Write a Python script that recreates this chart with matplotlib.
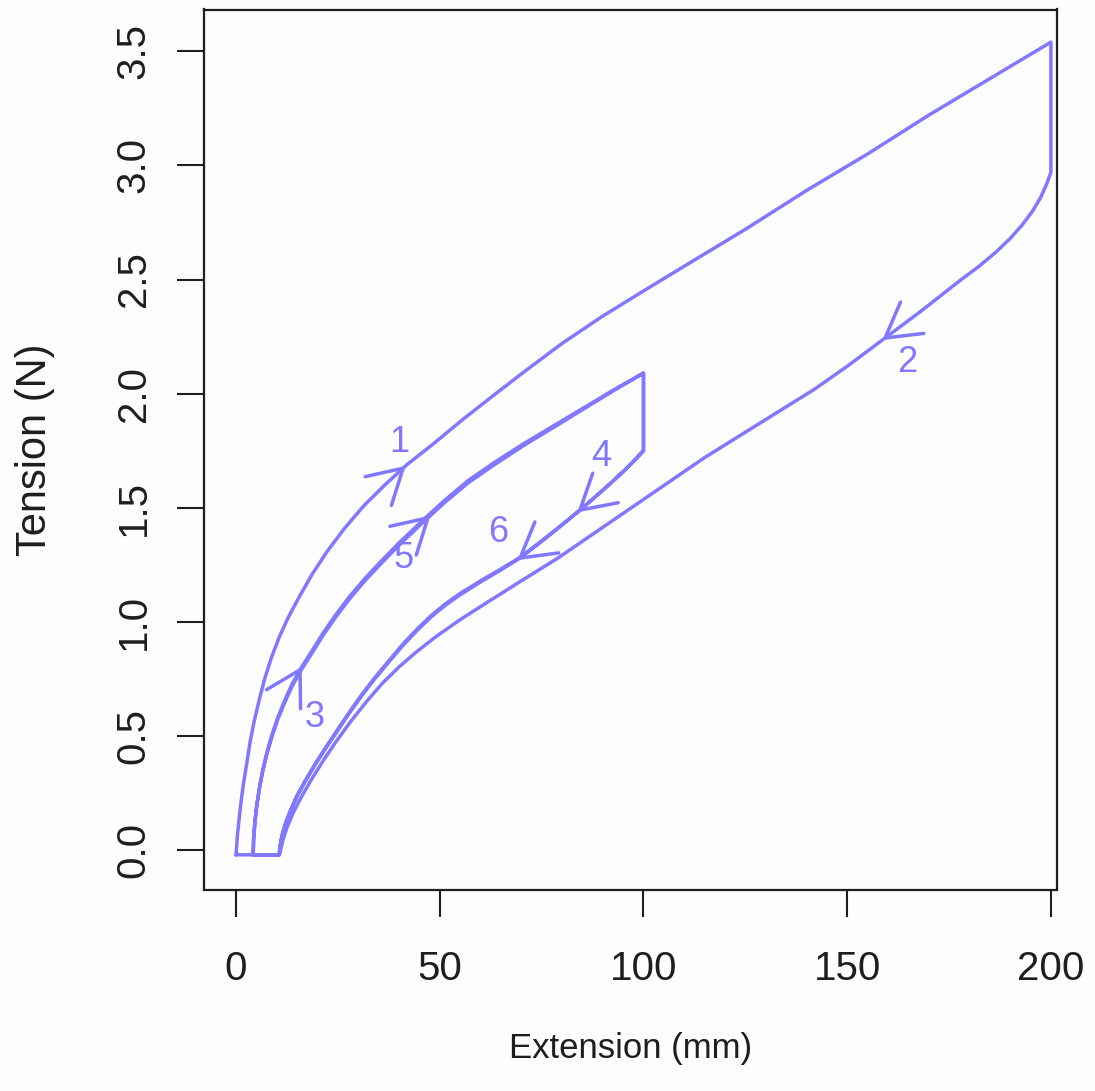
"""Hysteresis loops of tension against extension, three load/unload cycles."""

import numpy as np
import matplotlib

matplotlib.use("Agg")
import matplotlib.pyplot as plt

plt.rcParams["font.family"] = ["Liberation Sans", "DejaVu Sans"]

# cycle 1: load to 200 mm, then unload (mm / N)
load1_x = [0.0, 0.3, 0.7, 1.2, 1.8, 2.6, 3.5, 4.5, 5.7, 7.0, 8.6, 10.5, 12.8, 15.5,
           18.7, 22.4, 26.6, 31.4, 36.5, 42.0, 48.4, 55.5, 63.0, 71.0, 80.0, 90.0,
           100.0, 112.0, 125.0, 140.0, 155.0, 170.0, 185.0, 200.0]
load1_y = [-0.02, 0.06, 0.13, 0.21, 0.29, 0.38, 0.48, 0.57, 0.66, 0.75, 0.84, 0.93, 1.02, 1.11,
           1.21, 1.31, 1.41, 1.51, 1.60, 1.69, 1.78, 1.885, 1.99, 2.10, 2.22, 2.34,
           2.45, 2.58, 2.72, 2.89, 3.05, 3.22, 3.38, 3.54]
unload2_x = [200.0, 199.0, 197.5, 195.5, 193.0, 190.0, 186.5, 182.5, 178.0, 173.0, 168.0,
             162.0, 156.0, 150.0, 142.0, 133.0, 124.0, 115.0, 106.0, 97.0, 88.0, 79.0,
             70.0, 62.0, 55.0, 49.0, 44.0, 40.0, 36.0, 32.0, 28.0, 24.5, 21.3, 18.5,
             16.0, 14.0, 12.5, 11.5, 10.9, 10.6]
unload2_y = [2.97, 2.92, 2.86, 2.80, 2.74, 2.68, 2.62, 2.56, 2.50, 2.43, 2.36,
             2.28, 2.20, 2.12, 2.02, 1.92, 1.82, 1.72, 1.61, 1.50, 1.39, 1.28,
             1.18, 1.09, 1.01, 0.935, 0.865, 0.803, 0.733, 0.651, 0.561, 0.475, 0.39, 0.31,
             0.233, 0.163, 0.10, 0.045, 0.0, -0.02]

# cycles 2 and 3: load to 100 mm, then unload
load3_x = [4.2, 4.3, 4.6, 5.1, 5.8, 6.6, 7.6, 8.8, 10.2, 11.9, 13.8, 16.0, 18.5, 21.3,
           24.4, 27.8, 31.6, 35.8, 40.5, 45.5, 51.0, 57.0, 63.5, 70.5, 78.0, 85.5, 93.0,
           100.0]
load3_y = [-0.02, 0.05, 0.12, 0.20, 0.28, 0.355, 0.43, 0.505, 0.58, 0.655, 0.73, 0.80, 0.87,
           0.95, 1.03, 1.11, 1.19, 1.27, 1.355, 1.44, 1.53, 1.62, 1.70, 1.78, 1.86, 1.94,
           2.02, 2.09]
unload4_x = [100.0, 98.0, 95.5, 92.5, 88.8, 84.4, 79.5, 74.5, 69.7, 65.0, 60.0, 55.0,
             51.5, 48.0, 44.5, 41.0, 37.5, 34.0, 31.0, 28.0, 25.0, 22.0, 19.5, 17.0, 15.0,
             13.5, 12.3, 11.5, 11.0, 10.7, 10.6]
unload4_y = [1.75, 1.712, 1.667, 1.617, 1.558, 1.49, 1.418, 1.348, 1.283, 1.232, 1.18, 1.125,
             1.081, 1.03, 0.97, 0.904, 0.83, 0.755, 0.685, 0.61, 0.53, 0.45, 0.38, 0.305, 0.24,
             0.18, 0.125, 0.08, 0.04, 0.005, -0.02]
load5_x = [4.2, 4.3, 4.6, 5.1, 5.8, 6.6, 7.6, 8.8, 10.2, 11.9, 13.8, 16.0, 18.5, 21.3,
           24.4, 27.8, 31.6, 35.8, 40.5, 45.5, 51.0, 57.0, 63.5, 70.5, 78.0, 85.5, 93.0,
           100.0]
load5_y = [-0.02, 0.05, 0.12, 0.20, 0.28, 0.352, 0.425, 0.498, 0.572, 0.646, 0.72, 0.79, 0.86,
           0.94, 1.02, 1.10, 1.18, 1.26, 1.345, 1.43, 1.52, 1.61, 1.69, 1.772, 1.853, 1.935,
           2.017, 2.09]
unload6_x = [100.0, 98.0, 95.5, 92.5, 88.8, 84.4, 79.5, 74.5, 69.7, 65.0, 60.0, 55.0,
             51.5, 48.0, 44.5, 41.0, 37.5, 34.0, 31.0, 28.0, 25.0, 22.0, 19.5, 17.0, 15.0,
             13.5, 12.3, 11.5, 11.0, 10.7, 10.6, 0.0]
unload6_y = [1.75, 1.712, 1.667, 1.617, 1.558, 1.49, 1.418, 1.346, 1.28, 1.228, 1.175, 1.119,
             1.075, 1.024, 0.964, 0.898, 0.825, 0.75, 0.681, 0.606, 0.527, 0.447, 0.378, 0.303,
             0.239, 0.18, 0.125, 0.08, 0.04, 0.005, -0.02, -0.02]

# numbered arrows: tip position on each segment and label placement
arrow_x = [41.0, 159.3, 15.7, 84.4, 47.1, 69.7]
arrow_labels = ["1", "2", "3", "4", "5", "6"]
label_x = [40.0, 164.7, 19.4, 89.6, 41.2, 64.3]
label_y = [1.784, 2.135, 0.583, 1.723, 1.276, 1.390]

x_ticks = [0, 50, 100, 150, 200]
y_ticks = [0.0, 0.5, 1.0, 1.5, 2.0, 2.5, 3.0, 3.5]

COLOR = "#8078FF"
INK = "#1E1E1E"

fig = plt.figure(figsize=(10.95, 10.91), dpi=100, facecolor="#FDFDFD")
ax = fig.add_axes([203.5 / 1095, 1 - 889.5 / 1091, 853.5 / 1095, 880 / 1091])
ax.set_facecolor("#FDFDFD")

segments = [
    (load1_x, load1_y, True),
    (unload2_x, unload2_y, False),
    (load3_x, load3_y, True),
    (unload4_x, unload4_y, False),
    (load5_x, load5_y, True),
    (unload6_x, unload6_y, False),
]

path_x = np.concatenate([s[0] for s in segments])
path_y = np.concatenate([s[1] for s in segments])
ax.plot(path_x, path_y, color=COLOR, lw=2.5,
        solid_joinstyle="round", solid_capstyle="round")

ax.set_xlim(-8.0, 201.5)
ax.set_ylim(-0.172, 3.683)
ax.set_xticks(x_ticks)
ax.set_xticklabels([str(t) for t in x_ticks], fontsize=29)
ax.set_yticks(y_ticks)
ax.set_yticklabels([f"{t:.1f}" for t in y_ticks], rotation=90, va="center", fontsize=29)
ax.tick_params(length=19.5, width=1.5, color=INK, labelcolor=INK)
ax.tick_params(axis="x", pad=24)
ax.tick_params(axis="y", pad=17)
for sp in ax.spines.values():
    sp.set_linewidth(1.6)
    sp.set_color(INK)

ax.set_xlabel("Extension (mm)", fontsize=25, va="center", color=INK)
ax.xaxis.set_label_coords(0.5, -0.181)
ax.set_ylabel("Tension (N)", fontsize=30, va="center", color=INK)
ax.yaxis.set_label_coords(-0.1974, 0.5)

# open arrowheads along the path, drawn in screen space
inv = ax.transData.inverted()
barb = 39.0
half = np.deg2rad(30)
for (xs, ys, forward), xt in zip(segments, arrow_x):
    xs = np.asarray(xs)
    ys = np.asarray(ys)
    order = np.argsort(xs, kind="stable")
    xp, yp = xs[order], ys[order]
    tip = ax.transData.transform((xt, np.interp(xt, xp, yp)))
    xb = xt - 1.5 if forward else xt + 1.5
    back = ax.transData.transform((xb, np.interp(xb, xp, yp)))
    ang = np.arctan2(back[1] - tip[1], back[0] - tip[0])
    pts = [tip + barb * np.array([np.cos(ang + half), np.sin(ang + half)]),
           tip,
           tip + barb * np.array([np.cos(ang - half), np.sin(ang - half)])]
    pts = inv.transform(np.array(pts))
    ax.plot(pts[:, 0], pts[:, 1], color=COLOR, lw=2.5,
            solid_joinstyle="round", solid_capstyle="round")

for lx, ly, lab in zip(label_x, label_y, arrow_labels):
    ax.text(lx, ly, lab, color=COLOR, fontsize=26, ha="center", va="center")

fig.savefig("out.png", dpi=100, facecolor=fig.get_facecolor())
